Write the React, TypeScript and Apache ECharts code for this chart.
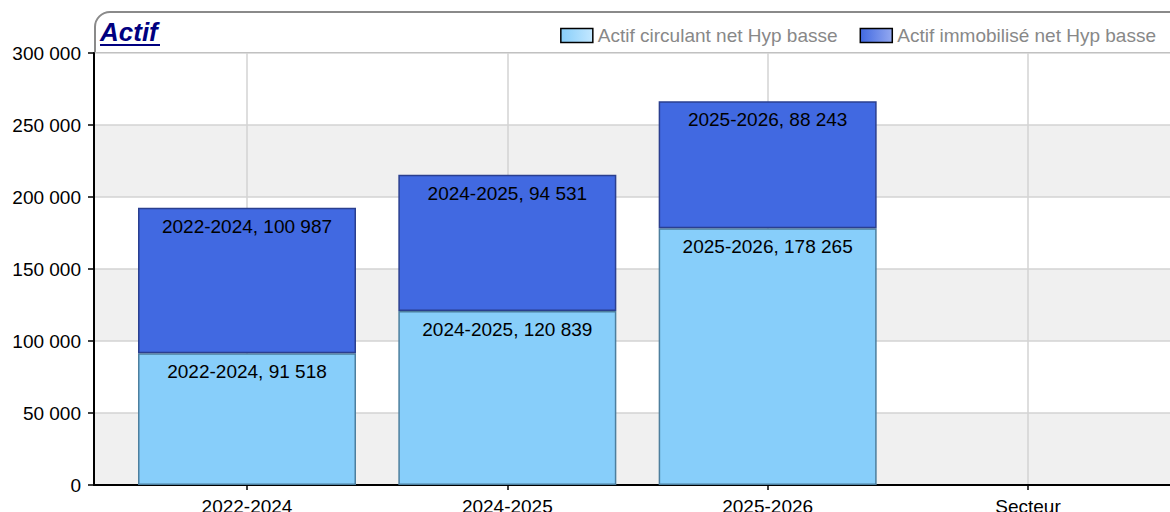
import React, { useEffect, useRef } from "react";
import * as echarts from "echarts";

const categories = ["2022-2024", "2024-2025", "2025-2026", "Secteur"];
const circulant = [91518, 120839, 178265, null];
const immobilise = [100987, 94531, 88243, null];
const seriesNames = ["Actif circulant net Hyp basse", "Actif immobilisé net Hyp basse"];
const titleText = "Actif";
const yMax = 300000;
const yInterval = 50000;

const fmt = (v: number) => String(Math.round(v)).replace(/\B(?=(\d{3})+(?!\d))/g, " ");

export default function App() {
  const ref = useRef<HTMLDivElement>(null);
  useEffect(() => {
    if (!ref.current) return;
    const chart = echarts.init(ref.current, null, { renderer: "svg" });
    const font = "'Liberation Sans', Arial, sans-serif";
    const labelFmt = (p: any) => `${p.name}, ${fmt(p.value)}`;
    const fs = 19;
    chart.setOption({
      animation: false,
      backgroundColor: "#ffffff",
      textStyle: { fontFamily: font },
      graphic: [
        {
          type: "rect",
          shape: { x: 95, y: 12, width: 1120, height: 41, r: [15, 0, 0, 0] },
          style: { fill: "none", stroke: "#8a8a8a", lineWidth: 2 },
          z: 0,
        },
        {
          type: "text",
          x: 100,
          y: 19,
          style: {
            text: titleText,
            font: `italic bold 26px ${font}`,
            fill: "#000080",
          },
          z: 10,
        },
        {
          type: "rect",
          shape: { x: 100, y: 44, width: 60, height: 2 },
          style: { fill: "#000080" },
          z: 10,
        },
      ],
      legend: {
        right: 9,
        top: 21,
        itemWidth: 32,
        itemHeight: 14,
        itemGap: 22,
        textStyle: { color: "#888888", fontSize: fs, fontFamily: font },
        data: [
          {
            name: seriesNames[0],
            icon: "rect",
            itemStyle: {
              color: new echarts.graphic.LinearGradient(0, 0, 1, 0, [
                { offset: 0, color: "#87CEFA" },
                { offset: 1, color: "#c4e8ff" },
              ]),
              borderColor: "#000",
              borderWidth: 1.5,
            },
          },
          {
            name: seriesNames[1],
            icon: "rect",
            itemStyle: {
              color: new echarts.graphic.LinearGradient(0, 0, 1, 0, [
                { offset: 0, color: "#4169E1" },
                { offset: 1, color: "#94a9f0" },
              ]),
              borderColor: "#000",
              borderWidth: 1.5,
            },
          },
        ],
      },
      grid: [
        { left: 94, right: 0, top: 53, bottom: 27, outerBoundsMode: "none", containLabel: false },
        { left: 247, right: 142, top: 53, bottom: 27, outerBoundsMode: "none", containLabel: false },
      ],
      xAxis: [
        {
          gridIndex: 0,
          type: "value",
          min: 0,
          max: 1,
          axisLine: { show: true, onZero: false, lineStyle: { color: "#000", width: 2 } },
          axisTick: { show: false },
          axisLabel: { show: false },
          splitLine: { show: false },
        },
        {
          gridIndex: 1,
          type: "category",
          data: categories,
          boundaryGap: false,
          axisLine: { show: false },
          axisTick: { show: true, length: 5, lineStyle: { color: "#000", width: 1.5 } },
          axisLabel: { color: "#000", fontSize: fs, margin: 12, fontFamily: font },
          splitLine: { show: true, lineStyle: { color: "#d3d3d3", width: 1.5 } },
        },
      ],
      yAxis: [
        {
          gridIndex: 0,
          type: "value",
          min: 0,
          max: yMax,
          interval: yInterval,
          axisLine: { show: true, lineStyle: { color: "#000", width: 2 } },
          axisTick: { show: true, length: 6, lineStyle: { color: "#000", width: 1.5 } },
          axisLabel: {
            color: "#000",
            fontSize: fs,
            margin: 13,
            fontFamily: font,
            formatter: (v: number) => fmt(v),
          },
          splitLine: { show: true, lineStyle: { color: "#d3d3d3", width: 1.5 } },
          splitArea: { show: true, areaStyle: { color: ["#f0f0f0", "#ffffff"] } },
        },
        {
          gridIndex: 1,
          type: "value",
          min: 0,
          max: yMax,
          interval: yInterval,
          show: false,
        },
      ],
      series: [
        {
          name: seriesNames[0],
          type: "bar",
          stack: "total",
          xAxisIndex: 1,
          yAxisIndex: 1,
          data: circulant,
          barWidth: 218,
          clip: false,
          itemStyle: { color: "#87CEFA", borderColor: "#4d7f9e", borderWidth: 1.5 },
          label: {
            show: true,
            position: "insideTop",
            distance: 9,
            color: "#000",
            fontSize: fs,
            fontFamily: font,
            formatter: labelFmt,
          },
        },
        {
          name: seriesNames[1],
          type: "bar",
          stack: "total",
          xAxisIndex: 1,
          yAxisIndex: 1,
          data: immobilise,
          barWidth: 218,
          clip: false,
          itemStyle: { color: "#4169E1", borderColor: "#2a3f8f", borderWidth: 1.5 },
          label: {
            show: true,
            position: "insideTop",
            distance: 9,
            color: "#000",
            fontSize: fs,
            fontFamily: font,
            formatter: labelFmt,
          },
        },
      ],
    });
    return () => chart.dispose();
  }, []);
  return (
    <div
      ref={ref}
      style={{ position: "fixed", left: 0, top: 0, width: 1170, height: 512 }}
    />
  );
}
